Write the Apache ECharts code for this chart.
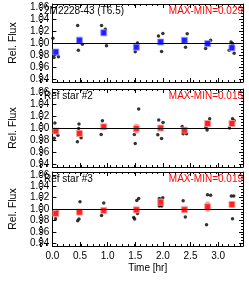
<!DOCTYPE html>
<html><head><meta charset="utf-8">
<script src="https://cdn.jsdelivr.net/npm/echarts@6/dist/echarts.min.js"></script>
<style>html,body{margin:0;padding:0;background:#fff;overflow:hidden}#c{width:249px;height:282px}</style>
</head><body><div id="c"></div>
<script>
// ---- data ----
const binTimes = [0.063, 0.49, 0.93, 1.52, 1.96, 2.39, 2.81, 3.25];

const targetMean = [0.985, 1.0045, 1.017, 0.993, 1.0017, 1.0045, 0.999, 0.992];
const targetErr  = [0.005, 0.006, 0.005, 0.004, 0.005, 0.004, 0.004, 0.005];
const targetDotTime = [0.01, 0.03, 0.11, 0.458, 0.47, 0.543, 0.89, 0.958, 0.98, 1.50, 1.54, 1.92, 2.0, 1.976, 2.44, 2.41, 2.774, 2.864, 3.233, 3.29, 3.20, 3.26];
const targetDotFlux = [1.008, 0.976, 0.977, 1.029, 0.988, 0.998, 1.029, 1.023, 0.9955, 0.9855, 1.0, 1.0117, 1.016, 0.986, 1.0155, 0.993, 0.991, 1.0045, 1.0017, 0.983, 0.988, 0.999];

const ref2Mean = [0.995, 0.991, 1.002, 0.999, 1.0, 0.9965, 1.0075, 1.0075];
const ref2Err  = [0.004, 0.005, 0.004, 0.008, 0.004, 0.003, 0.005, 0.004];
const ref2DotTime = [0.046, 0.034, 0.10, 0.453, 0.482, 0.475, 0.52, 0.906, 0.883, 1.562, 1.484, 1.50, 1.925, 2.003, 1.908, 1.976, 2.35, 2.367, 2.428, 2.847, 2.78, 2.80, 3.26, 3.204, 3.29];
const ref2DotFlux = [1.0085, 0.983, 0.988, 0.977, 1.0067, 0.9993, 0.9838, 1.012, 0.989, 1.0317, 0.989, 0.974, 1.0133, 1.0093, 0.9888, 0.9827, 1.0027, 0.9905, 0.9905, 1.0155, 1.001, 0.9967, 1.0155, 1.0, 1.012];

const ref3Mean = [0.992, 0.9945, 0.9975, 0.9985, 1.012, 0.9988, 1.004, 1.008];
const ref3Err  = [0.004, 0.005, 0.004, 0.005, 0.005, 0.004, 0.009, 0.006];
const ref3DotTime = [0.058, 0.092, 0.458, 0.482, 0.50, 0.89, 0.93, 1.472, 1.489, 1.528, 1.562, 1.54, 1.936, 1.998, 1.936, 1.98, 2.367, 2.406, 2.808, 2.864, 2.79, 3.238, 3.283, 3.26];
const ref3DotFlux = [0.983, 0.997, 0.9794, 0.9824, 1.0128, 0.9888, 1.0105, 0.985, 0.9824, 1.0151, 1.0186, 0.992, 1.0186, 1.0199, 1.0053, 1.0053, 1.0146, 0.986, 1.025, 1.024, 0.9724, 1.0228, 1.023, 0.983];

const panelLabels = ['2M2228-43 (T6.5)', 'Ref star #2', 'Ref star #3'];
const maxMinLabels = ['MAX-MIN=0.029', 'MAX-MIN=0.015', 'MAX-MIN=0.019'];
const xTickValues = [0, 0.5, 1.0, 1.5, 2.0, 2.5, 3.0];
const yTickValues = [0.94, 0.96, 0.98, 1.00, 1.02, 1.04, 1.06];
const xAxisTitle = 'Time [hr]';
const yAxisTitle = 'Rel. Flux';

// ---- layout / style ----
const FONT = "'Liberation Sans', Arial, sans-serif";
const X_MIN = 0, X_MAX = 3.45, Y_MIN = 0.935, Y_MAX = 1.065;
const panels = [
  {top: 4, height: 78, mean: targetMean, err: targetErr, dt: targetDotTime, df: targetDotFlux, color: '#0000ff', light: '#9a9aff'},
  {top: 89, height: 78, mean: ref2Mean, err: ref2Err, dt: ref2DotTime, df: ref2DotFlux, color: '#ff0000', light: '#ffa0a0'},
  {top: 172, height: 74, mean: ref3Mean, err: ref3Err, dt: ref3DotTime, df: ref3DotFlux, color: '#ff0000', light: '#ffa0a0'}
];
const xMinor = [], yMinor = [];
for (let v = 0; v <= 3.45 + 1e-9; v += 0.1) xMinor.push(+v.toFixed(2));
for (let v = 0.935; v <= 1.065 + 1e-9; v += 0.005) yMinor.push(+v.toFixed(3));

const grid = [], xAxis = [], yAxis = [], series = [], graphic = [];
const LEFT = 40, WIDTH = 203;

function xAx(gi, pos, ticks, len, lineShow, labels, name) {
  return {
    type: 'value', gridIndex: gi, position: pos, min: X_MIN, max: X_MAX,
    axisLine: {show: lineShow, onZero: false, lineStyle: {color: '#000', width: 1}},
    axisTick: {show: true, inside: true, length: len, customValues: ticks, lineStyle: {color: '#000', width: 1}},
    axisLabel: labels ? {show: true, customValues: xTickValues, formatter: v => v.toFixed(1), fontSize: 10, fontFamily: FONT, color: '#000', margin: 5} : {show: false},
    splitLine: {show: false},
    name: name || '', nameLocation: 'middle', nameGap: 17,
    nameTextStyle: {fontSize: 10, fontFamily: FONT, color: '#000'}
  };
}
function yAx(gi, pos, ticks, len, lineShow, labels, name) {
  return {
    type: 'value', gridIndex: gi, position: pos, min: Y_MIN, max: Y_MAX,
    axisLine: {show: lineShow, onZero: false, lineStyle: {color: '#000', width: 1}},
    axisTick: {show: true, inside: true, length: len, customValues: ticks, lineStyle: {color: '#000', width: 1}},
    axisLabel: labels ? {show: true, customValues: yTickValues, formatter: v => v.toFixed(2), fontSize: 10, fontFamily: FONT, color: '#000', margin: 3} : {show: false},
    splitLine: {show: false},
    name: name || '', nameLocation: 'middle', nameGap: 26,
    nameTextStyle: {fontSize: 10.5, fontFamily: FONT, color: '#000'}
  };
}

panels.forEach((p, i) => {
  const gMain = grid.length;
  grid.push({left: LEFT, top: p.top, width: WIDTH, height: p.height, containLabel: false});
  const xb = xAxis.length;
  xAxis.push(xAx(gMain, 'bottom', xTickValues, 4, true, i === 2, i === 2 ? xAxisTitle : ''));
  xAxis.push(xAx(gMain, 'top', xTickValues, 4, true, false));
  const yl = yAxis.length;
  yAxis.push(yAx(gMain, 'left', yTickValues, 4, true, true, yAxisTitle));
  yAxis.push(yAx(gMain, 'right', yTickValues, 4, true, false));
  // minor tick overlay
  const gMin = grid.length;
  grid.push({left: LEFT, top: p.top, width: WIDTH, height: p.height, containLabel: false});
  xAxis.push(xAx(gMin, 'bottom', xMinor, 2, false, false));
  xAxis.push(xAx(gMin, 'top', xMinor, 2, false, false));
  yAxis.push(yAx(gMin, 'left', yMinor, 2, false, false));
  yAxis.push(yAx(gMin, 'right', yMinor, 2, false, false));

  series.push({
    type: 'scatter', xAxisIndex: xb, yAxisIndex: yl, z: 2,
    symbol: 'circle', symbolSize: 3.5, itemStyle: {color: '#000'},
    data: p.dt.map((t, k) => [t, p.df[k]]),
    markLine: {silent: true, symbol: 'none', label: {show: false},
      lineStyle: {color: '#000', width: 1, type: 'solid'}, data: [{yAxis: 1.0}]}
  });
  series.push({
    type: 'custom', xAxisIndex: xb, yAxisIndex: yl, z: 3,
    data: binTimes.map((t, k) => [t, p.mean[k], p.err[k]]),
    renderItem: (params, api) => {
      const x = api.value(0), m = api.value(1), e = api.value(2);
      const a = api.coord([x, m + e]), b = api.coord([x, m - e]);
      return {type: 'rect', shape: {x: a[0] - 2, y: a[1], width: 4, height: b[1] - a[1]}, style: {fill: p.light}};
    }
  });
  series.push({
    type: 'scatter', xAxisIndex: xb, yAxisIndex: yl, z: 4,
    symbol: 'rect', symbolSize: 6, itemStyle: {color: p.color, borderColor: p.light, borderWidth: 1},
    data: binTimes.map((t, k) => [t, p.mean[k]])
  });
  graphic.push({type: 'text', x: 44, y: p.top + 2, z: 10,
    style: {text: panelLabels[i], fontSize: 10, fontFamily: FONT, fill: '#000', textAlign: 'left', textVerticalAlign: 'top'}});
  graphic.push({type: 'text', x: 243, y: p.top + 2, z: 10,
    style: {text: maxMinLabels[i], fontSize: 10, fontFamily: FONT, fill: '#ff0000', textAlign: 'right', textVerticalAlign: 'top'}});
});

const chart = echarts.init(document.getElementById('c'), null, {renderer: 'canvas'});
chart.setOption({animation: false, backgroundColor: '#fff', graphic, grid, xAxis, yAxis, series});
</script></body></html>
